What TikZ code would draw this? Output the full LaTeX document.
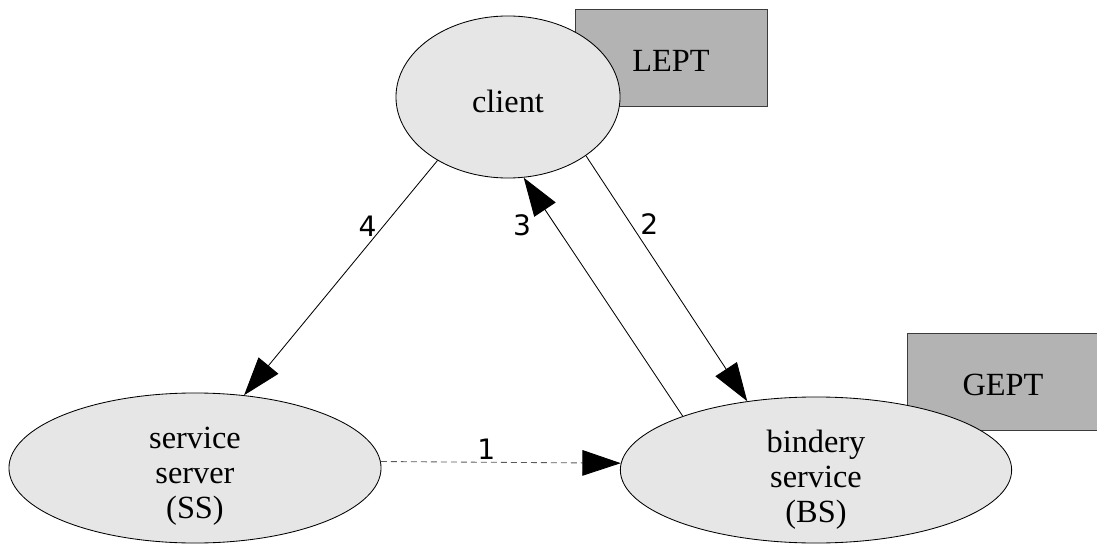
\documentclass[tikz,border=0pt]{standalone}
\usepackage{fontspec}
\setmainfont{Liberation Serif}
\newfontfamily\digitfont{DejaVu Sans}
\usepackage{xcolor}
\usepackage{tikz}
\usetikzlibrary{arrows.meta,shapes.geometric,positioning}
\definecolor{NodeGray}{HTML}{E6E6E6}
\definecolor{BoxGray}{HTML}{B3B3B3}
\definecolor{BoxEdge}{HTML}{3C3C3C}
\definecolor{DashGray}{HTML}{5A5A5A}

\begin{document}
\begin{tikzpicture}[
    x=0.025cm, y=-0.025cm,
    party/.style={ellipse, draw=black, fill=NodeGray, line width=0.6pt, inner sep=0pt},
    party text/.style={inner sep=0pt, align=center, font=\fontsize{23}{25}\selectfont},
    ept/.style={rectangle, draw=BoxEdge, fill=BoxGray, line width=0.6pt, inner sep=0pt,
                minimum width=4.8cm, minimum height=2.42cm, text height=0.66cm,
                font=\fontsize{23}{25}\selectfont},
    msg/.style={-{Triangle[length=0.96cm,width=0.64cm,color=black]}, line width=0.6pt},
    lazy/.style={msg, DashGray, dash pattern=on 0.15cm off 0.1cm},
    step label/.style={inner sep=0pt, text=black, font=\digitfont\fontsize{20}{22}\selectfont},
  ]
    \useasboundingbox (0,0) rectangle (1097,544);
    % endpoint tables sit behind the ellipses
    \node[ept] (lept) at (671,58)   {LEPT};
    \node[ept] (gept) at (1003,382) {GEPT};
    \node[party, minimum width=5.6cm, minimum height=4.05cm]  (client) at (508,97)  {};
    \node[party, minimum width=9.3cm, minimum height=3.75cm]  (ss)     at (195,468) {};
    \node[party, minimum width=9.78cm, minimum height=3.65cm] (bs)     at (816,470) {};
    \node[party text] (client text) at (508,101) {client};
    \node[party text] (ss text)     at (195,476) {service\\server\\(SS)};
    \node[party text] (bs text)     at (816,480) {bindery\\service\\(BS)};
    \draw[lazy] (ss.2) -- node[step label, pos=0.44, above=0.06cm] (n1) {1} (bs.178);
    \draw[msg] (client.323) -- node[step label, pos=0.28, right=0.22cm] (n2) {2} (bs.135);
    \draw[msg] (bs.158) -- node[step label, pos=0.80, left=0.6cm] (n3) {3} (client.281);
    \draw[msg] (client.222) -- node[step label, pos=0.28, left=0.16cm] (n4) {4} (ss.56);
  \end{tikzpicture}
\end{document}
